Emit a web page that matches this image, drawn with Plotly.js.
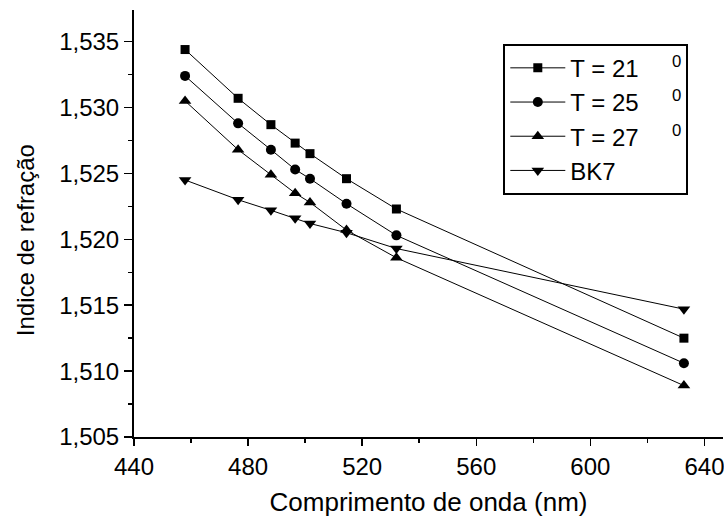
<!DOCTYPE html>
<html>
<head>
<meta charset="utf-8">
<script src="https://cdn.plot.ly/plotly-3.0.1.min.js"></script>
<style>
  html, body { margin: 0; padding: 0; background: #fff; }
  #chart { width: 724px; height: 527px; }
</style>
</head>
<body>
<div id="chart"></div>
<script>
// Wavelengths (nm) of the laser lines used
const wavelength = [457.9, 476.5, 488.0, 496.5, 501.7, 514.5, 532.0, 632.8];

// Refractive index at each temperature, plus BK7 reference glass
const nT21 = [1.5344, 1.5307, 1.5287, 1.5273, 1.5265, 1.5246, 1.5223, 1.5125];
const nT25 = [1.5324, 1.5288, 1.5268, 1.5253, 1.5246, 1.5227, 1.5203, 1.5106];
const nT27 = [1.5305, 1.5268, 1.5249, 1.5235, 1.5228, 1.5207, 1.5186, 1.5089];
const nBK7 = [1.5245, 1.5230, 1.5222, 1.5216, 1.5212, 1.5205, 1.5193, 1.5147];

const NB = '\u00A0';
const seriesNames = [
  'T = 21' + NB.repeat(5) + '<sup>0</sup>',
  'T = 25' + NB.repeat(5) + '<sup>0</sup>',
  'T = 27' + NB.repeat(5) + '<sup>0</sup>',
  'BK7'
];
const seriesValues = [nT21, nT25, nT27, nBK7];
const seriesSymbols = ['square', 'circle', 'triangle-up', 'triangle-down'];
const seriesSizes = [9, 10, 11, 11];

const xTicks = [440, 480, 520, 560, 600, 640];
const yTicks = [1.505, 1.510, 1.515, 1.520, 1.525, 1.530, 1.535];
const xRange = [440, 646.5];
const yRange = [1.505, 1.5374];

const traces = seriesValues.map((vals, i) => ({
  x: wavelength,
  y: vals,
  name: seriesNames[i],
  legendgroup: 'g' + i,
  type: 'scatter',
  mode: 'lines+markers',
  line: { color: '#000', width: 1 },
  marker: { symbol: seriesSymbols[i], size: seriesSizes[i], color: '#000' }
}));

const font = { family: 'Liberation Sans, Arial, sans-serif', color: '#000' };
const f = (size) => Object.assign({ size: size }, font);

const layout = {
  width: 724,
  height: 527,
  margin: { l: 134, r: 1, t: 10, b: 90 },
  paper_bgcolor: '#fff',
  plot_bgcolor: '#fff',
  separators: ',.',
  font: f(22),
  showlegend: true,
  legend: {
    x: 0.627, y: 0.921, xanchor: 'left', yanchor: 'top',
    bordercolor: '#000', borderwidth: 2, bgcolor: '#fff',
    font: f(24),
    tracegroupgap: 0,
    itemwidth: 55
  },
  xaxis: {
    range: xRange,
    tickvals: xTicks,
    ticks: 'outside', ticklen: 7, tickwidth: 1.5, tickcolor: '#000',
    minor: { dtick: 20, tick0: 440, ticks: 'outside', ticklen: 4, tickcolor: '#000' },
    showline: true, linecolor: '#000', linewidth: 2,
    showgrid: false, zeroline: false,
    ticklabeloverflow: 'allow',
    tickfont: f(24),
    title: { text: 'Comprimento de onda (nm)', font: f(26), standoff: 14 }
  },
  yaxis: {
    range: yRange,
    tickvals: yTicks,
    tickformat: '.3f',
    ticks: 'outside', ticklen: 8, tickwidth: 1.5, tickcolor: '#000',
    minor: { dtick: 0.0025, tick0: 1.505, ticks: 'outside', ticklen: 4, tickcolor: '#000' },
    showline: true, linecolor: '#000', linewidth: 2,
    showgrid: false, zeroline: false,
    tickfont: f(24)
  },
  // Frame on top and right with inward ticks
  xaxis2: {
    overlaying: 'x', side: 'top', anchor: 'y',
    range: xRange, dtick: 20, tick0: 440,
    ticks: 'inside', ticklen: 6, tickcolor: '#000', tickwidth: 1.5,
    showticklabels: false, showline: true, linecolor: '#000', linewidth: 2,
    showgrid: false, zeroline: false
  },
  yaxis2: {
    overlaying: 'y', side: 'right', anchor: 'x',
    range: yRange, tickvals: yTicks,
    ticks: 'inside', ticklen: 6, tickcolor: '#000', tickwidth: 1.5,
    showticklabels: false, showline: true, linecolor: '#000', linewidth: 2,
    showgrid: false, zeroline: false
  },
  // Vertical y-axis label, placed left of the tick labels
  annotations: [{
    text: 'Indice de refração',
    textangle: -90,
    xref: 'paper', yref: 'paper',
    x: -0.184, y: 0.46,
    xanchor: 'center', yanchor: 'middle',
    showarrow: false,
    font: f(24)
  }]
};

Plotly.newPlot('chart', traces, layout, { displayModeBar: false, staticPlot: true });
</script>
</body>
</html>
